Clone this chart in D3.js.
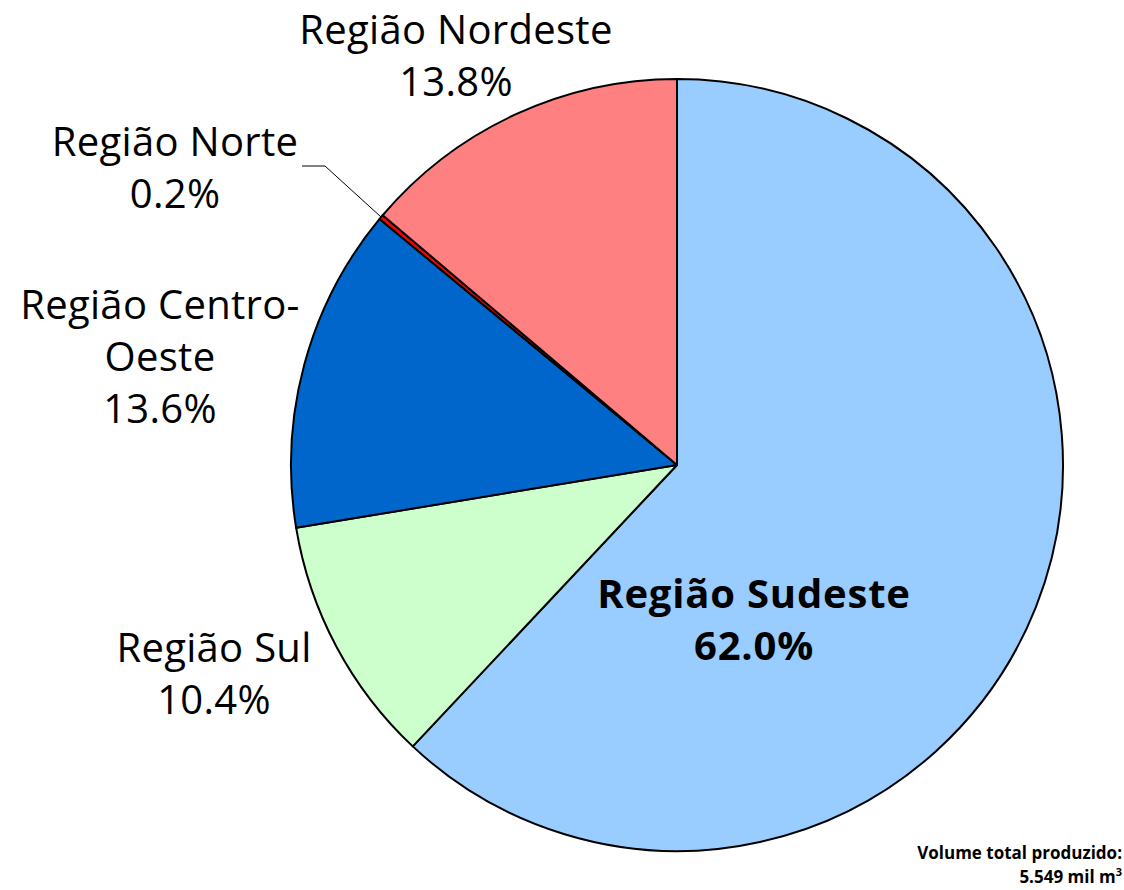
<!DOCTYPE html>
<html>
<head>
<meta charset="utf-8">
<script src="https://cdn.jsdelivr.net/npm/d3@7"></script>
<style>
  html, body { margin: 0; padding: 0; background: #fff; }
  text { font-family: "Open Sans", "Noto Sans", sans-serif; }
</style>
</head>
<body>
<div id="chart"></div>
<script>
// data, clockwise from 12 o'clock
const regions = ['Região Sudeste', 'Região Sul', 'Região Centro-Oeste', 'Região Norte', 'Região Nordeste'];
const shares = [62.0, 10.4, 13.6, 0.2, 13.8];
const colors = ['#99CCFF', '#CCFFCC', '#0066CC', '#FF0000', '#FF8080'];
// label text lines (as in the source)
const labelLines = [
    ['Região Sudeste', '62.0%'],
    ['Região Sul', '10.4%'],
    ['Região Centro-', 'Oeste', '13.6%'],
    ['Região Norte', '0.2%'],
    ['Região Nordeste', '13.8%']
];
const footer = ['Volume total produzido:', '5.549 mil m', '3'];

const width = 1124, height = 890;
const cx = 677, cy = 465, radius = 386;

// label placement (center of first line, in page px)
const labelPos = [[754, 594], [214, 648], [160, 305], [175, 142], [456, 30]];
const lineH = 52;

const svg = d3.select('#chart').append('svg')
    .attr('width', width)
    .attr('height', height);

const pie = d3.pie().sort(null).value(d => d);
const arc = d3.arc().innerRadius(0).outerRadius(radius);
const arcs = pie(shares);

const g = svg.append('g').attr('transform', `translate(${cx},${cy})`);

g.selectAll('path')
    .data(arcs)
    .enter().append('path')
    .attr('d', arc)
    .attr('fill', (d, i) => colors[i])
    .attr('stroke', '#000')
    .attr('stroke-width', 2)
    .attr('stroke-linejoin', 'round');

// leader line for the tiny Norte slice
const norte = arcs[3];
const mid = (norte.startAngle + norte.endAngle) / 2;
const ex = cx + radius * Math.sin(mid), ey = cy - radius * Math.cos(mid);
svg.append('polyline')
    .attr('points', `${ex},${ey} ${325},${166} ${302},${166}`)
    .attr('fill', 'none')
    .attr('stroke', '#000')
    .attr('stroke-width', 1);

labelLines.forEach((lines, i) => {
    const t = svg.append('text')
        .attr('text-anchor', 'middle')
        .attr('font-size', 40)
        .attr('font-weight', i === 0 ? 700 : 400)
        .attr('letter-spacing', i === 0 ? 0.8 : 0.3)
        .attr('fill', '#000');
    lines.forEach((s, k) => {
        t.append('tspan')
            .attr('x', labelPos[i][0])
            .attr('y', labelPos[i][1] + k * lineH)
            .attr('dy', '0.35em')
            .text(s);
    });
});

// footer note
const f = svg.append('text')
    .attr('text-anchor', 'end')
    .attr('font-size', 17)
    .attr('font-weight', 700);
f.append('tspan').attr('x', 1122).attr('y', 853).attr('dy', '0.35em').text(footer[0]);
const f2 = f.append('tspan').attr('x', 1122).attr('y', 877).attr('dy', '0.35em');
f2.append('tspan').text(footer[1]);
f2.append('tspan')
    .attr('font-size', 11)
    .attr('dy', '-0.6em')
    .text(footer[2]);
</script>
</body>
</html>
